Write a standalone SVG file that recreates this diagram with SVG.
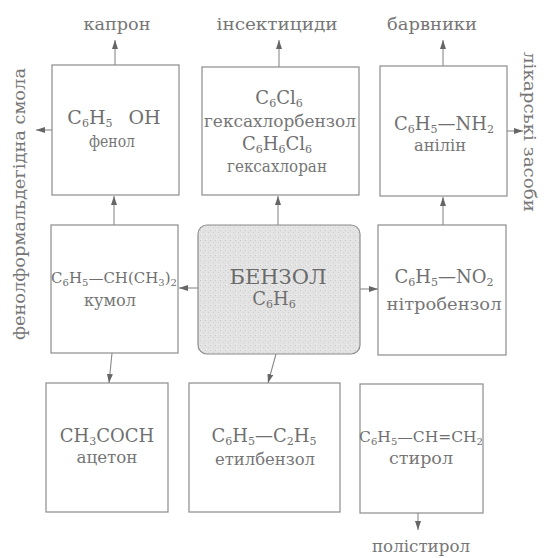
<svg xmlns="http://www.w3.org/2000/svg" width="548" height="558" viewBox="0 0 548 558">
<style>
  .box{fill:#ffffff;stroke:#8c8c8c;stroke-width:1.2}
  .f{font-family:"DejaVu Serif","Liberation Serif",serif;font-size:18px;fill:#6f6f6f}
  .n{font-family:"DejaVu Serif","Liberation Serif",serif;font-size:16px;fill:#767676}
  .big{font-family:"DejaVu Serif","Liberation Serif",serif;font-size:20px;fill:#6a6a6a}
  .s{font-size:11px}
  .c{fill:none;stroke:#8a8a8a;stroke-width:1.1;marker-end:url(#ah)}
</style>
<defs>
  <marker id="ah" markerUnits="userSpaceOnUse" markerWidth="9" markerHeight="6" refX="9" refY="3" orient="auto">
    <path d="M0,0 L9,3 L0,6 Z" fill="#666666"/>
  </marker>
  <pattern id="grain" width="5" height="5" patternUnits="userSpaceOnUse">
    <rect width="5" height="5" fill="#e3e3e3"/>
    <rect x="0" y="0" width="1" height="1" fill="#c9c9c9"/>
    <rect x="3" y="2" width="1" height="1" fill="#d2d2d2"/>
    <rect x="1" y="4" width="1" height="1" fill="#f0f0f0"/>
  </pattern>
</defs>
<rect width="548" height="558" fill="#ffffff"/>

<g id="connectors">
  <line class="c" x1="115" y1="65" x2="115" y2="40"/>
  <line class="c" x1="279" y1="67" x2="279" y2="40"/>
  <line class="c" x1="443" y1="66" x2="443" y2="40"/>
  <line class="c" x1="52" y1="130" x2="36" y2="130"/>
  <line class="c" x1="507" y1="131" x2="523" y2="131"/>
  <line class="c" x1="114" y1="225" x2="114" y2="196"/>
  <line class="c" x1="278" y1="225" x2="278" y2="196"/>
  <line class="c" x1="443" y1="225" x2="443" y2="197"/>
  <line class="c" x1="198" y1="288" x2="179" y2="288"/>
  <line class="c" x1="360" y1="289" x2="378" y2="289"/>
  <line class="c" x1="112" y1="353" x2="109" y2="383"/>
  <line class="c" x1="276" y1="354" x2="268" y2="383"/>
  <line class="c" x1="418" y1="513" x2="418" y2="530"/>
</g>

<g id="label-kapron"><text class="n" x="117" y="30" text-anchor="middle" textLength="67" lengthAdjust="spacingAndGlyphs">капрон</text></g>
<g id="label-insect"><text class="n" x="277" y="30" text-anchor="middle" textLength="121" lengthAdjust="spacingAndGlyphs">інсектициди</text></g>
<g id="label-barv"><text class="n" x="432" y="30" text-anchor="middle" textLength="90" lengthAdjust="spacingAndGlyphs">барвники</text></g>
<g id="label-smola"><text class="n" transform="translate(25,204) rotate(-90)" text-anchor="middle" textLength="272" lengthAdjust="spacingAndGlyphs">фенолформальдегідна смола</text></g>
<g id="label-likarski"><text class="n" transform="translate(524,132) rotate(90)" text-anchor="middle" textLength="160" lengthAdjust="spacingAndGlyphs">лікарські засоби</text></g>
<g id="label-polistyrol"><text class="n" x="421" y="552" text-anchor="middle" textLength="98" lengthAdjust="spacingAndGlyphs">полістирол</text></g>

<g id="phenol">
  <rect class="box" x="52" y="65" width="127" height="130"/>
  <text class="f" x="114" y="124" text-anchor="middle" style="font-size:19px">C<tspan class="s" dy="3">6</tspan><tspan dy="-3">H</tspan><tspan class="s" dy="3">5</tspan><tspan dy="-3" dx="16">OH</tspan></text>
  <text class="n" x="112" y="147" text-anchor="middle" textLength="46" lengthAdjust="spacingAndGlyphs">фенол</text>
</g>

<g id="chloro">
  <rect class="box" x="202" y="67" width="157" height="128"/>
  <text class="f" x="279" y="104" text-anchor="middle">C<tspan class="s" dy="3">6</tspan><tspan dy="-3">Cl</tspan><tspan class="s" dy="3">6</tspan></text>
  <text class="n" x="280" y="127" text-anchor="middle" textLength="152" lengthAdjust="spacingAndGlyphs">гексахлорбензол</text>
  <text class="f" x="277" y="150" text-anchor="middle">C<tspan class="s" dy="3">6</tspan><tspan dy="-3">H</tspan><tspan class="s" dy="3">6</tspan><tspan dy="-3">Cl</tspan><tspan class="s" dy="3">6</tspan></text>
  <text class="n" x="277" y="172" text-anchor="middle" textLength="100" lengthAdjust="spacingAndGlyphs">гексахлоран</text>
</g>

<g id="aniline">
  <rect class="box" x="380" y="66" width="127" height="130"/>
  <text class="f" x="444" y="130" text-anchor="middle">C<tspan class="s" dy="3">6</tspan><tspan dy="-3">H</tspan><tspan class="s" dy="3">5</tspan><tspan dy="-3">—NH</tspan><tspan class="s" dy="3">2</tspan></text>
  <text class="n" x="440" y="151" text-anchor="middle" textLength="52" lengthAdjust="spacingAndGlyphs">анілін</text>
</g>

<g id="cumene">
  <rect class="box" x="51" y="225" width="127" height="128"/>
  <text class="f" x="114" y="283" text-anchor="middle" style="font-size:15px">C<tspan class="s" dy="3" style="font-size:10px">6</tspan><tspan dy="-3">H</tspan><tspan class="s" dy="3" style="font-size:10px">5</tspan><tspan dy="-3">—CH(CH</tspan><tspan class="s" dy="3" style="font-size:10px">3</tspan><tspan dy="-3">)</tspan><tspan class="s" dy="3" style="font-size:10px">2</tspan></text>
  <text class="n" x="110" y="306" text-anchor="middle" textLength="52" lengthAdjust="spacingAndGlyphs">кумол</text>
</g>

<g id="benzene">
  <rect x="198" y="225" width="162" height="129" rx="9" ry="9" fill="url(#grain)" stroke="#8c8c8c" stroke-width="1.2"/>
  <text class="big" x="278" y="284" text-anchor="middle" textLength="97" lengthAdjust="spacingAndGlyphs">БЕНЗОЛ</text>
  <text class="f" x="274" y="305" text-anchor="middle">C<tspan class="s" dy="3">6</tspan><tspan dy="-3">H</tspan><tspan class="s" dy="3">6</tspan></text>
</g>

<g id="nitrobenzene">
  <rect class="box" x="378" y="225" width="128" height="130"/>
  <text class="f" x="444" y="283" text-anchor="middle">C<tspan class="s" dy="3">6</tspan><tspan dy="-3">H</tspan><tspan class="s" dy="3">5</tspan><tspan dy="-3">—NO</tspan><tspan class="s" dy="3">2</tspan></text>
  <text class="n" x="444" y="310" text-anchor="middle" textLength="115" lengthAdjust="spacingAndGlyphs">нітробензол</text>
</g>

<g id="acetone">
  <rect class="box" x="46" y="383" width="122" height="129"/>
  <text class="f" x="107" y="442" text-anchor="middle">CH<tspan class="s" dy="3">3</tspan><tspan dy="-3">COCH</tspan></text>
  <text class="n" x="107" y="463" text-anchor="middle" textLength="61" lengthAdjust="spacingAndGlyphs">ацетон</text>
</g>

<g id="ethylbenzene">
  <rect class="box" x="189" y="383" width="151" height="129"/>
  <text class="f" x="264" y="442" text-anchor="middle">C<tspan class="s" dy="3">6</tspan><tspan dy="-3">H</tspan><tspan class="s" dy="3">5</tspan><tspan dy="-3">—C</tspan><tspan class="s" dy="3">2</tspan><tspan dy="-3">H</tspan><tspan class="s" dy="3">5</tspan></text>
  <text class="n" x="265" y="465" text-anchor="middle" textLength="100" lengthAdjust="spacingAndGlyphs">етилбензол</text>
</g>

<g id="styrene">
  <rect class="box" x="360" y="384" width="123" height="129"/>
  <text class="f" x="421" y="442" text-anchor="middle" style="font-size:15.5px">C<tspan class="s" dy="3" style="font-size:10px">6</tspan><tspan dy="-3">H</tspan><tspan class="s" dy="3" style="font-size:10px">5</tspan><tspan dy="-3">—CH=CH</tspan><tspan class="s" dy="3" style="font-size:10px">2</tspan></text>
  <text class="n" x="421" y="464" text-anchor="middle" textLength="64" lengthAdjust="spacingAndGlyphs">стирол</text>
</g>
</svg>
